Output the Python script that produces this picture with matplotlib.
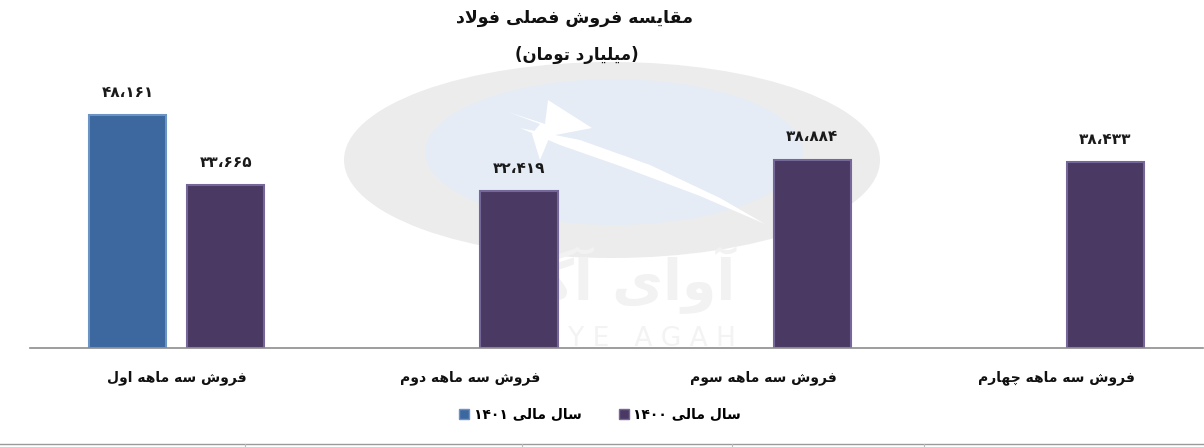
import numpy as np
import matplotlib
matplotlib.use("Agg")
import matplotlib.pyplot as plt
from matplotlib.patches import Ellipse
from matplotlib.lines import Line2D

# ---------------- data ----------------
categories = ["فروش سه ماهه اول", "فروش سه ماهه دوم", "فروش سه ماهه سوم", "فروش سه ماهه چهارم"]
values_1401 = [48161, None, None, None]
values_1400 = [33665, 32419, 38884, 38433]
series_names = ["سال مالی ۱۴۰۱", "سال مالی ۱۴۰۰"]
title = "مقایسه فروش فصلی فولاد"
subtitle = "(میلیارد تومان)"
watermark_fa = "آوای آگاه"
watermark_en = "A V A Y E   A G A H"

# ---------------- simple Persian shaping + bidi ----------------
FORMS = {
    'ا': ('\uFE8D', '\uFE8E', None, None),
    'آ': ('\uFE81', '\uFE82', None, None),
    'ب': ('\uFE8F', '\uFE90', '\uFE91', '\uFE92'),
    'پ': ('\uFB56', '\uFB57', '\uFB58', '\uFB59'),
    'ت': ('\uFE95', '\uFE96', '\uFE97', '\uFE98'),
    'چ': ('\uFB7A', '\uFB7B', '\uFB7C', '\uFB7D'),
    'د': ('\uFEA9', '\uFEAA', None, None),
    'ر': ('\uFEAD', '\uFEAE', None, None),
    'س': ('\uFEB1', '\uFEB2', '\uFEB3', '\uFEB4'),
    'ش': ('\uFEB5', '\uFEB6', '\uFEB7', '\uFEB8'),
    'ص': ('\uFEB9', '\uFEBA', '\uFEBB', '\uFEBC'),
    'ف': ('\uFED1', '\uFED2', '\uFED3', '\uFED4'),
    'ق': ('\uFED5', '\uFED6', '\uFED7', '\uFED8'),
    'ک': ('\uFB8E', '\uFB8F', '\uFB90', '\uFB91'),
    'گ': ('\uFB92', '\uFB93', '\uFB94', '\uFB95'),
    'ل': ('\uFEDD', '\uFEDE', '\uFEDF', '\uFEE0'),
    'م': ('\uFEE1', '\uFEE2', '\uFEE3', '\uFEE4'),
    'ن': ('\uFEE5', '\uFEE6', '\uFEE7', '\uFEE8'),
    'ه': ('\uFEE9', '\uFEEA', '\uFEEB', '\uFEEC'),
    'و': ('\uFEED', '\uFEEE', None, None),
    'ی': ('\uFBFC', '\uFBFD', '\uFBFE', '\uFBFF'),
}
LIG = {'ا': ('\uFEFB', '\uFEFC'), 'آ': ('\uFEF5', '\uFEF6')}


def shape(text):
    out = []
    n = len(text)
    i = 0
    prev_joins = False
    while i < n:
        c = text[i]
        if c == 'ل' and i + 1 < n and text[i + 1] in LIG:
            lig = LIG[text[i + 1]]
            out.append(lig[1] if prev_joins else lig[0])
            prev_joins = False
            i += 2
            continue
        if c in FORMS:
            f = FORMS[c]
            dual = f[2] is not None
            nxt = text[i + 1] if i + 1 < n else None
            next_joins = dual and (nxt in FORMS)
            if prev_joins and next_joins:
                g = f[3]
            elif prev_joins:
                g = f[1]
            elif next_joins:
                g = f[2]
            else:
                g = f[0]
            out.append(g)
            prev_joins = next_joins
        else:
            out.append(c)
            prev_joins = False
        i += 1
    return ''.join(out)


DIG = set('۰۱۲۳۴۵۶۷۸۹0123456789،')


def rtl(text):
    s = shape(text)
    runs = []
    for ch in s:
        isd = ch in DIG
        if runs and runs[-1][0] == isd:
            runs[-1][1].append(ch)
        else:
            runs.append([isd, [ch]])
    mirror = {'(': ')', ')': '('}
    out = []
    for isd, chs in reversed(runs):
        if isd:
            out.append(''.join(chs))
        else:
            out.append(''.join(mirror.get(c, c) for c in reversed(chs)))
    return ''.join(out)


FA_DIGITS = str.maketrans('0123456789,', '۰۱۲۳۴۵۶۷۸۹،')


def fa_num(v):
    return f"{v:,}".translate(FA_DIGITS)


# ---------------- figure ----------------
plt.rcParams['font.family'] = ['DejaVu Sans']
W, H = 1204, 447
fig = plt.figure(figsize=(W / 100, H / 100), dpi=100)
fig.patch.set_facecolor('white')

# background layer in pixel coordinates (watermark, bottom rule)
bg = fig.add_axes([0, 0, 1, 1], zorder=0)
bg.set_xlim(0, W)
bg.set_ylim(H, 0)
bg.axis('off')
bg.add_patch(Ellipse((612, 160), 536, 196, color='#ececec', lw=0))
bg.add_patch(Ellipse((614, 152), 378, 146, color='#e5ecf5', lw=0))
# white swoosh with a small star
bg.fill([520, 580, 650, 720, 765, 700, 620, 560],
        [128, 140, 165, 198, 224, 196, 166, 145], color='white', lw=0)
bg.fill([508, 545, 548, 592, 550, 540, 532, 540],
        [112, 124, 100, 128, 136, 160, 134, 124], color='white', lw=0)
bg.text(612, 280, rtl(watermark_fa), ha='center', va='center', fontsize=40,
        color='#f2f2f2', fontweight='bold')
bg.text(612, 339, watermark_en, ha='center', va='center', fontsize=19, color='#f3f3f3')
# bottom table rule
bg.plot([0, W], [444, 444], color='#9a9a9a', lw=1)
for tx in [245, 522, 732, 924]:
    bg.plot([tx, tx], [444, 447], color='#bbbbbb', lw=0.8)

# main axes
ax_left, ax_right = 30, 1203
ax_top, ax_bottom = 80, 348
ax = fig.add_axes([ax_left / W, 1 - ax_bottom / H, (ax_right - ax_left) / W, (ax_bottom - ax_top) / H],
                  zorder=1)
ax.patch.set_alpha(0)
ax.set_xlim(-0.5, len(categories) - 0.5)
ax.set_ylim(0, 55400)
for s in ['top', 'left', 'right']:
    ax.spines[s].set_visible(False)
ax.spines['bottom'].set_color('#8c8c8c')
ax.spines['bottom'].set_linewidth(1.2)
ax.set_xticks([])
ax.set_yticks([])

x = np.arange(len(categories))
bw = 0.263
off = 0.1675
c1401, e1401 = '#3d689f', '#6b93c4'
c1400, e1400 = '#4a3a63', '#76679a'

x1 = [xi - off for xi, v in zip(x, values_1401) if v is not None]
v1 = [v for v in values_1401 if v is not None]
x0 = [xi + off for xi, v in zip(x, values_1400) if v is not None]
v0 = [v for v in values_1400 if v is not None]

ax.bar(x1, v1, bw, color=c1401, edgecolor=e1401, linewidth=1.5, zorder=2)
ax.bar(x0, v0, bw, color=c1400, edgecolor=e1400, linewidth=1.5, zorder=2)

for xi, v in zip(x1 + x0, v1 + v0):
    ax.annotate(fa_num(v), (xi, v), xytext=(0, 16.5), textcoords='offset points',
                ha='center', va='center', fontsize=11, fontweight='bold', color='#1a1a1a')

lab_y = (ax_bottom - 378) / (ax_bottom - ax_top)
for xi, cat in zip(x, categories):
    ax.text(xi, lab_y, rtl(cat), transform=ax.get_xaxis_transform(), ha='center', va='center',
            fontsize=10, fontweight='bold', color='#111111')

# titles
fig.text(575 / W, 1 - 18 / H, rtl(title), ha='center', va='center', fontsize=12.5, fontweight='bold',
         color='#111111')
fig.text(577 / W, 1 - 55 / H, rtl(subtitle), ha='center', va='center', fontsize=12, fontweight='bold',
         color='#111111')

# legend
handles = [Line2D([], [], marker='s', ls='none', markersize=7, markerfacecolor=c1401, markeredgecolor=e1401),
           Line2D([], [], marker='s', ls='none', markersize=7, markerfacecolor=c1400, markeredgecolor=e1400)]
fig.legend(handles, [rtl(n) for n in series_names], loc='center', bbox_to_anchor=(600 / W, 1 - 415 / H),
           ncol=2, frameon=False, handlelength=0.8, handletextpad=0.3, columnspacing=2.6,
           prop={'size': 10, 'weight': 'bold'})

fig.savefig('out.png', dpi=100, facecolor='white')
